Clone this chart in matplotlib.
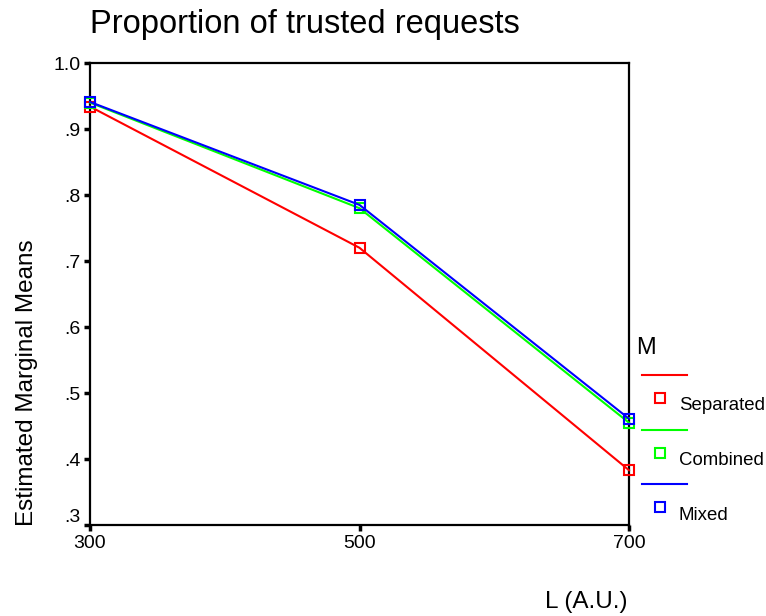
import matplotlib.pyplot as plt
import matplotlib.transforms as mtransforms
from matplotlib.lines import Line2D

plt.rcParams['font.family'] = ['Liberation Sans', 'DejaVu Sans']

# estimated marginal means
levels = [300, 500, 700]
separated = [0.934, 0.720, 0.383]
combined = [0.940, 0.780, 0.455]
mixed = [0.941, 0.785, 0.461]

series = [("Separated", separated, "#ff0000"),
          ("Combined", combined, "#00ff00"),
          ("Mixed", mixed, "#0000ff")]

fig = plt.figure(figsize=(7.66, 6.16), dpi=100)
ax = fig.add_axes([90 / 766, 1 - 525 / 616, (629 - 90) / 766, (525 - 63) / 616])

for name, vals, col in series:
    ax.plot(levels, vals, color=col, lw=1.5, marker="s", markersize=7.3,
            markerfacecolor="none", markeredgecolor=col, markeredgewidth=1.5,
            clip_on=False, zorder=3)

ax.set_xlim(300, 700)
ax.set_ylim(0.3, 1.0)
ax.set_xticks(levels)
ax.set_xticklabels([str(v) for v in levels], fontsize=14)
yt = [0.3, 0.4, 0.5, 0.6, 0.7, 0.8, 0.9, 1.0]
ax.set_yticks(yt)
ax.set_yticklabels([".3", ".4", ".5", ".6", ".7", ".8", ".9", "1.0"], fontsize=14)
for s in ax.spines.values():
    s.set_linewidth(1.6)
ax.tick_params(direction="out", length=4, width=2.5, pad=3)
# lowest label sits a bit above its tick
lab = ax.get_yticklabels()[0]
lab.set_transform(lab.get_transform() + mtransforms.ScaledTranslation(0, 0.09, fig.dpi_scale_trans))

fig.text(90 / 766, 1 - 25 / 616, "Proportion of trusted requests", fontsize=23.5,
         va="center", ha="left")
fig.text(27 / 766, 1 - 383 / 616, "Estimated Marginal Means", fontsize=17.5,
         rotation=90, va="center", ha="center")
fig.text(586 / 766, 1 - 602 / 616, "L (A.U.)", fontsize=17.5, va="center", ha="center")

# legend in the SPSS layout: line row, then marker + label row
fig.text(636 / 766, 1 - 348 / 616, "M", fontsize=17, va="center", ha="left")
for i, (name, vals, col) in enumerate(series):
    y_line = 375 + i * 54.5
    y_mark = y_line + 23
    fig.add_artist(Line2D([642 / 766, 687 / 766], [1 - y_line / 616] * 2,
                          color=col, lw=1.5, transform=fig.transFigure))
    fig.add_artist(Line2D([660 / 766], [1 - y_mark / 616], marker="s",
                          markersize=7.3, markerfacecolor="none",
                          markeredgecolor=col, markeredgewidth=1.5,
                          transform=fig.transFigure))
    fig.text(679 / 766, 1 - (y_mark + 8) / 616, name, fontsize=13.4,
             va="center", ha="left")

fig.savefig("out.png", dpi=100)
